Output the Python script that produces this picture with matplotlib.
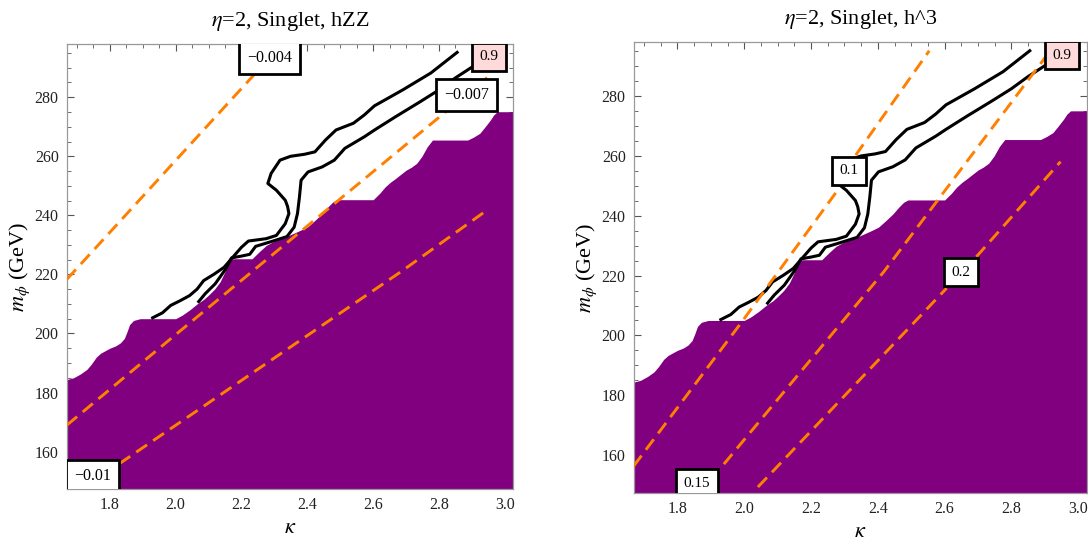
import numpy as np
import matplotlib
matplotlib.use("Agg")
import matplotlib.pyplot as plt
from matplotlib.ticker import MultipleLocator

plt.rcParams['font.family'] = ['Liberation Serif', 'DejaVu Serif']
plt.rcParams['mathtext.fontset'] = 'stix'

# excluded region (purple), upper boundary in (kappa, m_phi)
edge_k = [1.67, 1.69, 1.711, 1.73, 1.743, 1.759, 1.772, 1.785, 1.80, 1.818, 1.832, 1.844,
          1.852, 1.86, 1.872, 1.892, 2.0, 2.02, 2.043, 2.065, 2.086, 2.10, 2.118, 2.135,
          2.15, 2.162, 2.175, 2.232, 2.255, 2.275, 2.295, 2.317, 2.34, 2.36, 2.38, 2.402,
          2.425, 2.445, 2.462, 2.477, 2.49, 2.60, 2.62, 2.636, 2.652, 2.668, 2.685, 2.70,
          2.716, 2.732, 2.748, 2.764, 2.78, 2.887, 2.905, 2.924, 2.94, 2.956, 2.966, 2.977, 3.03]
edge_m = [184.4, 185.0, 186.3, 187.8, 189.5, 192.0, 193.3, 194.1, 195.0, 195.8, 196.8, 198.3,
          200.5, 203.0, 204.4, 205.0, 205.0, 206.2, 208.0, 210.0, 211.6, 213.0, 215.0, 217.5,
          221.0, 224.5, 225.3, 225.3, 227.8, 229.8, 231.0, 232.0, 233.0, 234.0, 235.0, 236.2,
          238.5, 240.6, 242.8, 244.5, 245.3, 245.3, 247.5, 249.6, 251.2, 252.5, 254.0, 255.3,
          256.3, 257.6, 260.0, 263.2, 265.5, 265.5, 266.5, 267.8, 270.0, 272.3, 274.0, 275.1, 275.1]

# black 0.9 contour (two branches)
outer_k = [1.93, 1.96, 1.985, 2.012, 2.042, 2.065, 2.085, 2.117, 2.147, 2.175, 2.2, 2.221, 2.275,
           2.306, 2.333, 2.344, 2.340, 2.333, 2.306, 2.28, 2.29, 2.317, 2.349, 2.392, 2.423,
           2.455, 2.487, 2.54, 2.573, 2.604, 2.69, 2.775, 2.855]
outer_m = [205.3, 207.0, 209.5, 211.0, 212.8, 215.0, 217.9, 220.1, 222.4, 226.0, 229.2, 231.3, 232.1,
           233.2, 237.2, 240.6, 243.0, 245.1, 248.5, 250.8, 254.2, 258.7, 260.0, 260.7, 261.5,
           265.5, 268.9, 271.2, 274.0, 277.1, 282.5, 288.2, 295.2]
inner_k = [2.07, 2.09, 2.12, 2.15, 2.17, 2.2, 2.225, 2.243, 2.296, 2.338, 2.36, 2.37, 2.376,
           2.381, 2.402, 2.445, 2.482, 2.514, 2.573, 2.604, 2.668, 2.743, 2.80, 2.849, 2.90]
inner_m = [210.8, 213.5, 216.8, 221.5, 225.6, 226.2, 226.8, 229.5, 231.3, 232.8, 236.0, 240.6,
           246.2, 251.9, 254.7, 256.4, 258.7, 262.7, 266.6, 268.9, 273.4, 278.5, 282.5, 286.5, 290.2]

# hZZ contours (orange dashed)
zz_004_k = [1.67, 2.243]
zz_004_m = [218.4, 288.2]
zz_007_k = [1.67, 2.0, 2.825]
zz_007_m = [169.0, 199.6, 275.5]
zz_007b_k = [2.939, 2.946]
zz_007b_m = [285.9, 286.7]
zz_01_k = [1.829, 2.688, 2.945]
zz_01_m = [155.9, 221.2, 241.7]

# h^3 contours (orange dashed)
h3_10_k = [1.669, 1.994, 2.282]
h3_10_m = [156.3, 204.7, 248.9]
h3_10b_k = [2.334, 2.554]
h3_10b_m = [260.3, 295.2]
h3_15_k = [1.9, 2.418, 2.913]
h3_15_m = [151.7, 221.3, 294.7]
h3_20_k = [2.041, 2.606]
h3_20_m = [149.3, 215.8]
h3_20b_k = [2.695, 2.947]
h3_20b_m = [226.3, 258.1]

PURPLE = '#800080'
ORANGE = '#ff8000'
XLIM = (1.67, 3.025)
YLIM = (147.3, 298.0)

fig = plt.figure(figsize=(10.88, 5.41), dpi=100)
ax1 = fig.add_axes([0.0616, 0.096, 0.41, 0.8225])
ax2 = fig.add_axes([0.5827, 0.0887, 0.416, 0.833])


def label_box(ax, x, y, s, fc='white', size=11.5):
    ax.text(x, y, s, ha='center', va='center', fontsize=size, zorder=10, clip_on=True,
            bbox=dict(boxstyle='square,pad=0.5', fc=fc, ec='black', lw=2.0))


def dashed(ax, k, m):
    ax.plot(k, m, color=ORANGE, lw=2.1, ls=(0, (4.5, 2.5)), zorder=4, solid_capstyle='butt')


for ax, title in [(ax1, r'$\eta$=2, Singlet, hZZ'), (ax2, r'$\eta$=2, Singlet, h^3')]:
    ax.fill_between(edge_k, edge_m, 100, color=PURPLE, lw=0, zorder=2)
    ax.plot(outer_k, outer_m, color='black', lw=2.2, zorder=3)
    ax.plot(inner_k, inner_m, color='black', lw=2.2, zorder=3)
    ax.set_xlim(*XLIM)
    ax.set_ylim(*YLIM)
    ax.xaxis.set_major_locator(MultipleLocator(0.2))
    ax.xaxis.set_minor_locator(MultipleLocator(0.05))
    ax.yaxis.set_major_locator(MultipleLocator(20))
    ax.yaxis.set_minor_locator(MultipleLocator(5))
    ax.xaxis.set_major_formatter(matplotlib.ticker.FormatStrFormatter('%.1f'))
    ax.tick_params(which='both', direction='in', top=True, right=True, color='#555555',
                   labelsize=11.5, labelcolor='#222222')
    ax.tick_params(which='major', length=5, width=0.8, pad=6)
    ax.tick_params(which='minor', length=3, width=0.6)
    for sp in ax.spines.values():
        sp.set_color('#999999')
        sp.set_linewidth(0.9)
    ax.set_title(title, fontsize=16, pad=13)
    ax.set_xlabel(r'$\kappa$', fontsize=16, labelpad=4)
    ax.set_ylabel(r'$m_\phi$ (GeV)', fontsize=16, labelpad=2)
    label_box(ax, 2.952, 293.7, '0.9', fc='#ffdada', size=11)

# left panel: hZZ
dashed(ax1, zz_004_k, zz_004_m)
dashed(ax1, zz_007_k, zz_007_m)
dashed(ax1, zz_007b_k, zz_007b_m)
dashed(ax1, zz_01_k, zz_01_m)
label_box(ax1, 2.285, 293.3, '\u22120.004')
label_box(ax1, 2.884, 280.8, '\u22120.007')
label_box(ax1, 1.748, 151.6, '\u22120.01')

# right panel: h^3
dashed(ax2, h3_10_k, h3_10_m)
dashed(ax2, h3_10b_k, h3_10b_m)
dashed(ax2, h3_15_k, h3_15_m)
dashed(ax2, h3_20_k, h3_20_m)
dashed(ax2, h3_20b_k, h3_20b_m)
label_box(ax2, 2.313, 255.0, '0.1', size=11)
label_box(ax2, 1.859, 150.6, '0.15', size=11)
label_box(ax2, 2.65, 221.2, '0.2', size=11)

fig.savefig('out.png', dpi=100)
